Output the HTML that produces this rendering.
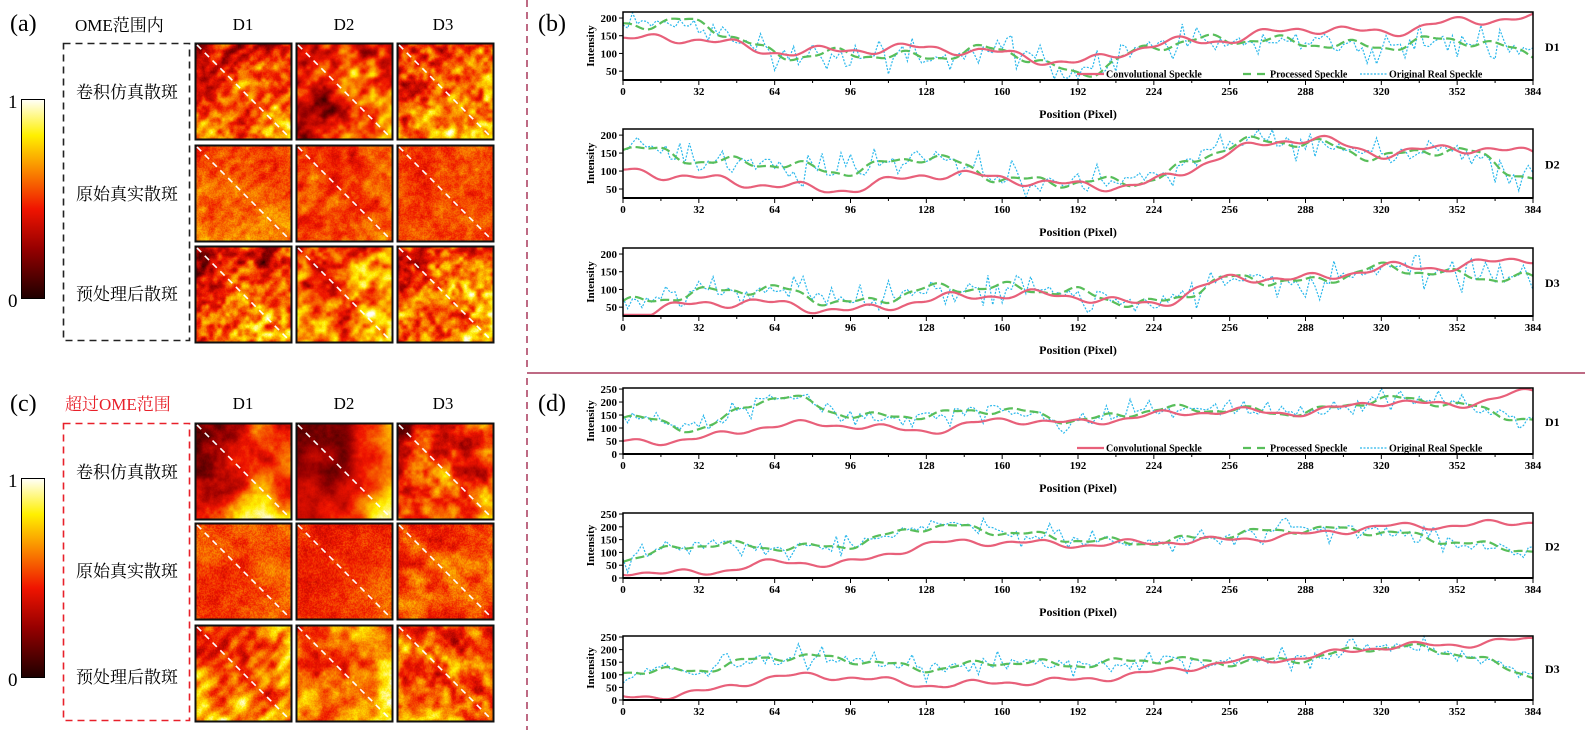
<!DOCTYPE html>
<html><head><meta charset="utf-8"><style>
body{margin:0;width:1585px;height:730px;background:#fff;position:relative;overflow:hidden;font-family:"Liberation Serif","Noto Serif CJK SC",serif}
canvas{position:absolute;image-rendering:auto}
svg{position:absolute;left:0;top:0}
</style></head><body>
<div id="imgs"></div>
<svg id="s" width="1585" height="730" xmlns="http://www.w3.org/2000/svg"></svg>
<script>
var seed=7;function rnd(){seed=(seed*16807)%2147483647;return (seed-1)/2147483646;}
function hot(v){v=Math.max(0,Math.min(1,v));var s=[[0,30,0,0],[0.25,150,0,0],[0.45,240,20,0],[0.65,250,140,0],[0.82,255,240,0],[1,255,255,250]];
for(var i=1;i<s.length;i++){if(v<=s[i][0]){var t=(v-s[i-1][0])/(s[i][0]-s[i-1][0]);return [0,1,2].map(k=>Math.round(s[i-1][k+1]+t*(s[i][k+1]-s[i-1][k+1])));}}return [255,255,250];}
function grid(n){var g=[];for(var i=0;i<=n;i++){g.push([]);for(var j=0;j<=n;j++)g[i].push(rnd());}return g;}
function samp(g,n,x,y){var fx=x*n,fy=y*n,i=Math.min(n-1,Math.floor(fx)),j=Math.min(n-1,Math.floor(fy)),tx=fx-i,ty=fy-j;tx=tx*tx*(3-2*tx);ty=ty*ty*(3-2*ty);
return g[j][i]*(1-tx)*(1-ty)+g[j][i+1]*tx*(1-ty)+g[j+1][i]*(1-tx)*ty+g[j+1][i+1]*tx*ty;}
function img(x,y,w,h,p){var c=document.createElement('canvas');c.width=96;c.height=96;c.style.left=x+'px';c.style.top=y+'px';c.style.width=w+'px';c.style.height=h+'px';
var ctx=c.getContext('2d'),d=ctx.createImageData(96,96);var g1=grid(p.s1),g2=grid(p.s2),g3=grid(24);
for(var j=0;j<96;j++)for(var i=0;i<96;i++){var u=i/96,v=j/96;
var val=p.base+p.gx*(u-0.5)+p.gy*(v-0.5)+p.a1*(samp(g1,p.s1,u,v)-0.5)+p.a2*(samp(g2,p.s2,u,v)-0.5)+p.a3*(samp(g3,24,u,v)-0.5)+p.n*(rnd()-0.5)+p.st*Math.sin((i+j)*0.35+3*samp(g1,p.s1,u,v));
var col=hot(val),k=(j*96+i)*4;d.data[k]=col[0];d.data[k+1]=col[1];d.data[k+2]=col[2];d.data[k+3]=255;}
ctx.putImageData(d,0,0);document.getElementById('imgs').appendChild(c);}
var cols=[195,296,397],top1=[43,145,246],top2=[423,523,625];
var P1=[
[{base:0.5,gx:0.2,gy:0.25,s1:4,a1:0.35,s2:12,a2:0.3,a3:0.2,n:0.08,st:0.05},{base:0.48,gx:0.35,gy:0.15,s1:3,a1:0.4,s2:10,a2:0.35,a3:0.15,n:0.05,st:0.04},{base:0.58,gx:0.15,gy:0.25,s1:4,a1:0.25,s2:14,a2:0.35,a3:0.2,n:0.08,st:0.03}],
[{base:0.58,gx:0.05,gy:0.1,s1:4,a1:0.15,s2:12,a2:0.12,a3:0.1,n:0.12,st:0.02},{base:0.54,gx:0.05,gy:0.05,s1:5,a1:0.2,s2:12,a2:0.15,a3:0.1,n:0.1,st:0.02},{base:0.52,gx:0,gy:0,s1:4,a1:0.12,s2:12,a2:0.1,a3:0.1,n:0.12,st:0.01}],
[{base:0.52,gx:0.2,gy:0.25,s1:4,a1:0.35,s2:12,a2:0.35,a3:0.25,n:0.08,st:0.05},{base:0.58,gx:0.15,gy:0.2,s1:4,a1:0.35,s2:10,a2:0.4,a3:0.2,n:0.06,st:0.04},{base:0.56,gx:0.1,gy:0.15,s1:4,a1:0.3,s2:14,a2:0.4,a3:0.25,n:0.08,st:0.03}]];
var P2=[
[{base:0.5,gx:0.3,gy:0.35,s1:3,a1:0.45,s2:8,a2:0.25,a3:0.1,n:0.05,st:0},{base:0.45,gx:0.5,gy:0.35,s1:2,a1:0.35,s2:6,a2:0.2,a3:0.08,n:0.04,st:0},{base:0.5,gx:0.2,gy:0.3,s1:4,a1:0.35,s2:10,a2:0.3,a3:0.15,n:0.06,st:0}],
[{base:0.56,gx:0.05,gy:0,s1:4,a1:0.15,s2:10,a2:0.1,a3:0.05,n:0.15,st:0},{base:0.5,gx:0.05,gy:0.05,s1:3,a1:0.1,s2:10,a2:0.08,a3:0.05,n:0.15,st:0},{base:0.53,gx:0,gy:0.05,s1:5,a1:0.25,s2:12,a2:0.15,a3:0.08,n:0.14,st:0}],
[{base:0.62,gx:0.1,gy:0.1,s1:4,a1:0.4,s2:10,a2:0.3,a3:0.1,n:0.1,st:0.06},{base:0.64,gx:0.15,gy:0.2,s1:3,a1:0.3,s2:10,a2:0.3,a3:0.1,n:0.1,st:0},{base:0.55,gx:0,gy:0.1,s1:5,a1:0.4,s2:12,a2:0.35,a3:0.15,n:0.1,st:0}]];
for(var r=0;r<3;r++)for(var c=0;c<3;c++){img(cols[c],top1[r],96,96,P1[r][c]);img(cols[c],top2[r],96,97,P2[r][c]);}
var S='';
function T(x,y,t,o){o=o||{};S+='<text x="'+x+'" y="'+y+'" font-size="'+(o.fs||11)+'" font-weight="'+(o.fw||'normal')+'" fill="'+(o.f||'#000')+'" text-anchor="'+(o.a||'start')+'"'+(o.tr?' transform="'+o.tr+'"':'')+'>'+t+'</text>';}
// image borders and diagonals
[top1,top2].forEach(function(tp){for(var r=0;r<3;r++)for(var c=0;c<3;c++){var x=cols[c],y=tp[r];S+='<rect x="'+(x+0.5)+'" y="'+(y+0.5)+'" width="96" height="96" fill="none" stroke="#111" stroke-width="2"/><line x1="'+(x+2)+'" y1="'+(y+2)+'" x2="'+(x+95)+'" y2="'+(y+95)+'" stroke="#fff" stroke-width="1.6" stroke-dasharray="6,5"/>';}});
// colorbars
S+='<defs><linearGradient id="cb" x1="0" y1="1" x2="0" y2="0"><stop offset="0" stop-color="#1e0000"/><stop offset="0.25" stop-color="#960000"/><stop offset="0.45" stop-color="#f01400"/><stop offset="0.65" stop-color="#fa8c00"/><stop offset="0.82" stop-color="#fff000"/><stop offset="1" stop-color="#fffffa"/></linearGradient></defs>';
S+='<rect x="21.5" y="99.5" width="23" height="199" fill="url(#cb)" stroke="#000"/><rect x="21.5" y="478.5" width="23" height="199" fill="url(#cb)" stroke="#000"/>';
T(8,108,'1',{fs:19});T(8,307,'0',{fs:19});T(8,487,'1',{fs:19});T(8,686,'0',{fs:19});
T(10,31,'(a)',{fs:24});T(10,411,'(c)',{fs:24});T(538,31,'(b)',{fs:24});T(538,411,'(d)',{fs:24});
T(75,31,'OME范围内',{fs:17});T(65,410,'超过OME范围',{fs:17,f:'#e8202a'});
[[243,'D1'],[344,'D2'],[443,'D3']].forEach(function(d){T(d[0],30,d[1],{fs:17,a:'middle'});T(d[0],409,d[1],{fs:17,a:'middle'});});
S+='<rect x="63.5" y="43.5" width="126" height="297" fill="none" stroke="#222" stroke-width="1.6" stroke-dasharray="7,5"/>';
S+='<rect x="63.5" y="423.5" width="126" height="297" fill="none" stroke="#e8202a" stroke-width="1.6" stroke-dasharray="7,5"/>';
['卷积仿真散斑','原始真实散斑','预处理后散斑'].forEach(function(t,i){T(127,[98,200,300][i],t,{fs:17,a:'middle'});T(127,[478,577,683][i],t,{fs:17,a:'middle'});});
// separators
S+='<line x1="527" y1="0" x2="527" y2="368" stroke="#a8385c" stroke-width="1.5" stroke-dasharray="7,5"/><line x1="527" y1="378" x2="527" y2="730" stroke="#a8385c" stroke-width="1.5" stroke-dasharray="7,5"/>';
S+='<line x1="527" y1="373" x2="1585" y2="373" stroke="#a8385c" stroke-width="1.5"/>';
// charts
function cr(pts,t){var n=pts.length-1,f=t/384*n,i=Math.min(n-1,Math.floor(f)),u=f-i;var p0=pts[Math.max(0,i-1)],p1=pts[i],p2=pts[i+1],p3=pts[Math.min(n,i+2)];
return 0.5*((2*p1)+(-p0+p2)*u+(2*p0-5*p1+4*p2-p3)*u*u+(-p0+3*p1-3*p2+p3)*u*u*u);}
function chart(yt,yb,vmax,vmin,ticks,red,green,lbl,legend,xlabel){var X0=623,X1=1533;
function X(v){return X0+v/384*(X1-X0);}function Y(v){return yb-(v-vmin)/(vmax-vmin)*(yb-yt);}
function cl(v){return Math.max(vmin+3,Math.min(vmax-2,v));}
var ph1=rnd()*6,ph2=rnd()*6,rp='',gp='',bp='';
for(var t=0;t<=384;t+=1){var r=cl(cr(red,t)+10*Math.sin(t/6+ph1)+6*Math.sin(t/2.7+ph2));rp+=(t?'L':'M')+X(t).toFixed(1)+','+Y(r).toFixed(1);
var g=cl(cr(green,t)+12*Math.sin(t/5+ph2)+5*Math.sin(t/2.3));gp+=(t?'L':'M')+X(t).toFixed(1)+','+Y(g).toFixed(1);}
for(var t=0;t<=384;t+=2){var g=cr(green,t);var b=cl(g+(rnd()<0.35?(rnd()-0.5)*110:(rnd()-0.5)*35));bp+=(t?'L':'M')+X(t).toFixed(1)+','+Y(b).toFixed(1);}
S+='<path d="'+bp+'" fill="none" stroke="#2ab8ec" stroke-width="1.2" stroke-dasharray="2,1.5"/>';
S+='<path d="'+gp+'" fill="none" stroke="#58be5a" stroke-width="2.2" stroke-dasharray="9,4"/>';
S+='<path d="'+rp+'" fill="none" stroke="#e8607a" stroke-width="2.2"/>';
S+='<rect x="'+X0+'" y="'+yt+'" width="'+(X1-X0)+'" height="'+(yb-yt)+'" fill="none" stroke="#000" stroke-width="1.5"/>';
S+='<line x1="'+X0+'" y1="'+yb+'" x2="'+X1+'" y2="'+yb+'" stroke="#000" stroke-width="2"/>';
for(var v=0;v<=384;v+=16){S+='<line x1="'+X(v)+'" y1="'+yb+'" x2="'+X(v)+'" y2="'+(yb+(v%32?3:5))+'" stroke="#000"/>';if(v%32==0)T(X(v),yb+15,v,{fs:11,fw:'bold',a:'middle'});}
ticks.forEach(function(v){S+='<line x1="'+(X0-4)+'" y1="'+Y(v)+'" x2="'+X0+'" y2="'+Y(v)+'" stroke="#000"/>';T(X0-6,Y(v)+4,v,{fs:11,fw:'bold',a:'end'});});
T(594,(yt+yb)/2,'Intensity',{fs:11,fw:'bold',a:'middle',tr:'rotate(-90 '+594+' '+((yt+yb)/2)+')'});
T(1545,(yt+yb)/2+5,lbl,{fs:12,fw:'bold'});
if(xlabel)T(1078,yb+38,'Position (Pixel)',{fs:12,fw:'bold',a:'middle'});
if(legend){var ly=yb-6;S+='<line x1="1077" y1="'+ly+'" x2="1104" y2="'+ly+'" stroke="#e8607a" stroke-width="2.2"/><line x1="1243" y1="'+ly+'" x2="1268" y2="'+ly+'" stroke="#58be5a" stroke-width="2.2" stroke-dasharray="8,6"/><line x1="1360" y1="'+ly+'" x2="1387" y2="'+ly+'" stroke="#2ab8ec" stroke-width="1.2" stroke-dasharray="2,1.5"/>';
T(1106,ly+3.5,'Convolutional Speckle',{fs:10,fw:'bold'});T(1270,ly+3.5,'Processed Speckle',{fs:10,fw:'bold'});T(1389,ly+3.5,'Original Real Speckle',{fs:10,fw:'bold'});}}
var tb=[50,100,150,200],td=[0,50,100,150,200,250];
chart(12,80,217,25,tb,[140,140,105,110,115,100,75,125,140,170,160,190,200],[180,185,100,100,90,110,45,120,140,130,120,140,100],'D1',true,true);
chart(129,198,217,25,tb,[100,80,60,50,90,80,60,70,150,190,150,165,150],[170,130,120,100,140,80,70,80,170,180,140,160,80],'D2',false,true);
chart(248,316,217,25,tb,[25,60,60,40,70,85,80,60,130,130,160,165,190],[60,90,100,60,100,105,90,60,130,120,160,140,130],'D3',false,true);
chart(388,454,254,0,td,[45,60,110,110,90,130,120,150,165,160,200,190,240],[150,100,220,150,150,170,130,170,170,160,210,190,130],'D1',true,true);
chart(513,578,254,0,td,[25,20,60,60,130,140,130,140,150,170,200,205,220],[75,130,120,130,200,180,150,140,170,190,180,140,110],'D2',false,true);
chart(636,700,254,0,td,[10,30,90,90,60,70,80,110,150,170,210,220,240],[115,120,170,160,125,150,140,160,150,165,210,185,100],'D3',false,false);
document.getElementById('s').innerHTML=S;
</script>
</body></html>
